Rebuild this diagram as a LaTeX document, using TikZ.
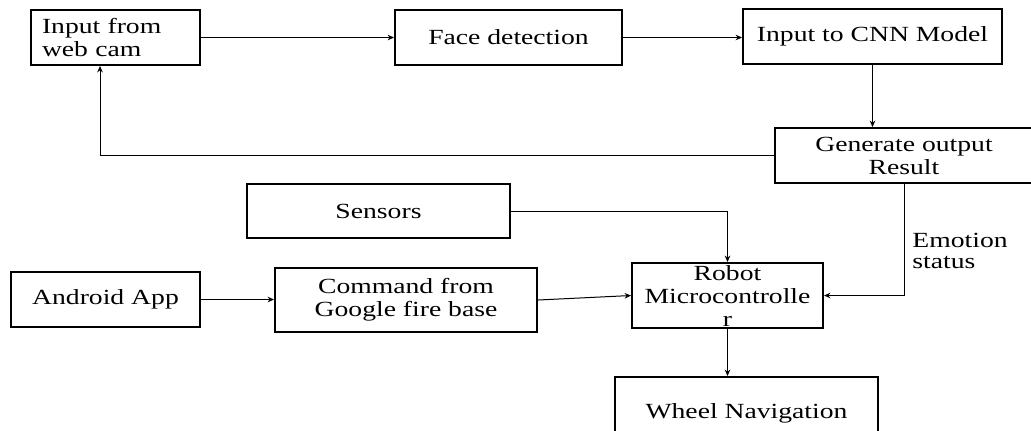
\documentclass[tikz,border=0pt]{standalone}
\usepackage{fontspec}
\setmainfont[FakeStretch=1.28]{Liberation Serif}
\usetikzlibrary{arrows.meta}
\begin{document}
\begin{tikzpicture}[x=0.5pt,y=-0.5pt,
  box/.style={draw, line width=1pt, inner sep=0pt, align=center, font=\fontsize{10.8pt}{11.5pt}\selectfont},
  arr/.style={-{Stealth[length=3.2pt,width=2.8pt]}, line width=0.5pt}]
\useasboundingbox (0,0) rectangle (1031,430);
\clip (0,0) rectangle (1031,430);
\node[box, align=left, text width=73.5pt, inner xsep=5.5pt, minimum height=27.5pt] (in) at (115.5,37.5) {Input from\\web cam};
\node[box, minimum width=113.5pt, minimum height=27.5pt] (fd) at (508.5,37.5) {Face detection};
\node[box, minimum width=129.5pt, minimum height=27.5pt] (cnn) at (872.5,36.5) {Input to CNN Model};
\node[box, minimum width=129pt, minimum height=27.5pt] (gen) at (904,155.5) {Generate output\\Result};
\node[box, minimum width=131.5pt, minimum height=27pt] (sen) at (378.5,211) {Sensors};
\node[box, minimum width=95.5pt, minimum height=32.5pt] (rob) at (727.5,295.5) {Robot\\Microcontrolle\\r};
\node[box, minimum width=94.5pt, minimum height=27.5pt] (and) at (105.5,299.5) {Android App};
\node[box, minimum width=131pt, minimum height=32pt] (cmd) at (406,300) {Command from\\Google fire base};
\node[box, minimum width=131.5pt, minimum height=36pt] (wh) at (746.5,413) {Wheel Navigation};
\node[anchor=west, inner sep=0pt, align=left, font=\fontsize{10.8pt}{10.8pt}\selectfont] (emo) at (912,251) {Emotion\\status};
\draw[arr] (in.east) -- (in.east -| fd.west);
\draw[arr] (fd.east) -- (fd.east -| cnn.west);
\draw[arr] (cnn.south) -- (cnn.south |- gen.north);
\draw[arr] (gen.west) -| ([xshift=-7.75pt]in.south);
\draw[arr] (sen.east) -| (rob.north);
\draw[arr] (and.east) -- (and.east -| cmd.west);
\draw[arr] (cmd.east) -- (rob.west);
\draw[arr] (gen.south) |- (rob.east);
\draw[arr] (rob.south) -- (rob.south |- wh.north);
\end{tikzpicture}
\end{document}
